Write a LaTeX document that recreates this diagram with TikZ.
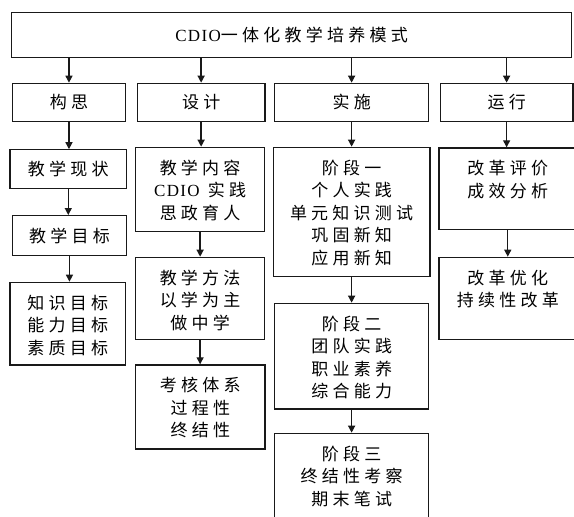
\documentclass[tikz,border=0pt]{standalone}
\usepackage{fontspec}
\setmainfont{Liberation Serif}
\newfontfamily\cjk[LetterSpace=25]{Noto Sans CJK SC}
\newfontfamily\lat[LetterSpace=8]{Liberation Serif}
\usetikzlibrary{arrows.meta}
\newcommand{\bt}[3]{\parbox[c][#2][t]{#1}{\centering\cjk\fontsize{17pt}{22.5pt}\selectfont\rule{0pt}{27pt}#3\par}}
\newcommand{\ct}[1]{{\cjk\fontsize{17pt}{20pt}\selectfont #1}}
\tikzset{
  bx/.style={draw=black!90, line width=1.25pt, inner sep=0pt, anchor=north west},
  arr/.style={draw=black!90, line width=1.3pt, -{Triangle[length=7pt,width=7pt]}}
}
\begin{document}
\begin{tikzpicture}[x=1pt,y=-1pt]
\useasboundingbox (0,0) rectangle (574,517);
\node[bx, minimum width=560pt, minimum height=45pt] (top) at (11,11.7)
  {\fontsize{17pt}{20pt}\selectfont{\lat CDIO}{\cjk 一体化教学培养模式}};
% row 2
\node[bx, minimum width=113.3pt, minimum height=38pt] (r1) at (11.7,82.7) {\ct{构思}};
\node[bx, minimum width=127.6pt, minimum height=38pt] (r2) at (136.7,82.7) {\ct{设计}};
\node[bx, minimum width=154pt, minimum height=38pt] (r3) at (274,82.7) {\ct{实施}};
\node[bx, minimum width=132.6pt, minimum height=38pt] (r4) at (439.7,82.7) {\ct{运行}};
% column 1
\node[bx, minimum width=116.7pt, minimum height=38.3pt] (c1a) at (9.3,149.2) {\ct{教学现状}};
\node[bx, minimum width=114.3pt, minimum height=40pt] (c1b) at (11.7,215) {\ct{教学目标}};
\node[bx] (c1c) at (9.3,281.7) {\bt{115.7pt}{82.6pt}{知识目标\\能力目标\\素质目标}};
% column 2
\node[bx] (c2a) at (135,146.7) {\bt{129pt}{84pt}{教学内容\\{\lat CDIO} 实践\\思政育人}};
\node[bx] (c2b) at (135,256.7) {\bt{129pt}{82.3pt}{教学方法\\以学为主\\做中学}};
\node[bx] (c2c) at (135,364.3) {\bt{129.3pt}{84pt}{考核体系\\过程性\\终结性}};
% column 3
\node[bx] (c3a) at (272.7,146.7) {\bt{156.6pt}{129.3pt}{阶段一\\个人实践\\单元知识测试\\巩固新知\\应用新知}};
\node[bx] (c3b) at (274,302.7) {\bt{154pt}{105.6pt}{阶段二\\团队实践\\职业素养\\综合能力}};
\node[bx] (c3c) at (274,432.7) {\bt{154pt}{90pt}{阶段三\\终结性考察\\期末笔试}};
% column 4
\node[bx] (c4a) at (438.3,147.3) {\bt{137.7pt}{81.7pt}{改革评价\\成效分析}};
\node[bx] (c4b) at (438.3,256.7) {\bt{137.7pt}{82.3pt}{改革优化\\持续性改革}};
% arrows
\foreach \n in {r1,r2,r3,r4} \draw[arr] (top.south -| \n.north) -- (\n.north);
\draw[arr] (r1.south) -- (r1.south |- c1a.north);
\draw[arr] (c1a.south) -- (c1a.south |- c1b.north);
\draw[arr] (c1b.south) -- (c1b.south |- c1c.north);
\draw[arr] (r2.south) -- (r2.south |- c2a.north);
\draw[arr] (c2a.south) -- (c2a.south |- c2b.north);
\draw[arr] (c2b.south) -- (c2b.south |- c2c.north);
\draw[arr] (r3.south) -- (r3.south |- c3a.north);
\draw[arr] (c3a.south) -- (c3a.south |- c3b.north);
\draw[arr] (c3b.south) -- (c3b.south |- c3c.north);
\draw[arr] (r4.south) -- (r4.south |- c4a.north);
\draw[arr] (c4a.south) -- (c4a.south |- c4b.north);
\end{tikzpicture}
\end{document}
